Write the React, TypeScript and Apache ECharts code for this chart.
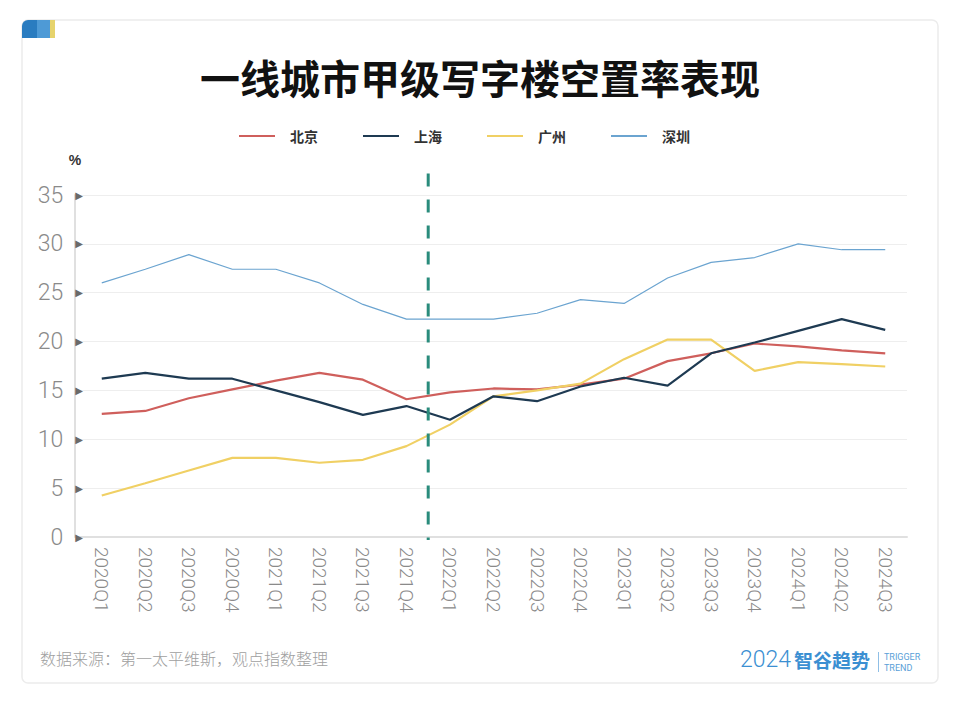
import React, { useEffect, useRef } from "react";
import * as echarts from "echarts";

const categories = [
  "2020Q1", "2020Q2", "2020Q3", "2020Q4",
  "2021Q1", "2021Q2", "2021Q3", "2021Q4",
  "2022Q1", "2022Q2", "2022Q3", "2022Q4",
  "2023Q1", "2023Q2", "2023Q3", "2023Q4",
  "2024Q1", "2024Q2", "2024Q3",
];
const beijing = [12.6, 12.9, 14.2, 15.1, 16.0, 16.8, 16.1, 14.1, 14.8, 15.2, 15.1, 15.6, 16.2, 18.0, 18.8, 19.8, 19.5, 19.1, 18.8];
const shanghai = [16.2, 16.8, 16.2, 16.2, 15.0, 13.8, 12.5, 13.4, 12.0, 14.4, 13.9, 15.4, 16.3, 15.5, 18.8, 19.9, 21.1, 22.3, 21.2];
const guangzhou = [4.25, 5.5, 6.8, 8.1, 8.1, 7.6, 7.9, 9.3, 11.5, 14.4, 15.0, 15.7, 18.2, 20.2, 20.2, 17.0, 17.9, 17.7, 17.45];
const shenzhen = [26.0, 27.4, 28.9, 27.4, 27.4, 26.0, 23.8, 22.3, 22.3, 22.3, 22.9, 24.3, 23.9, 26.5, 28.1, 28.6, 30.0, 29.4, 29.4];
// divider between 2021Q4 and 2022Q1 (category index 7.5), spanning slightly beyond the axis range
const dividerLine = [[7.5, 37.2], [7.5, -0.3]];

const seriesNames = ["北京", "上海", "广州", "深圳"];
const colors = ["#cf5f5c", "#1e3a52", "#f0d064", "#6ba4d0"];

export default function App() {
  const ref = useRef<HTMLDivElement>(null);
  useEffect(() => {
    const chart = echarts.init(ref.current!, null, { renderer: "svg" });
    const labelColor = "#8a8a8a";
    chart.setOption({
      animation: false,
      backgroundColor: "#ffffff",
      title: {
        text: "一线城市甲级写字楼空置率表现",
        left: "center",
        top: 52,
        textStyle: {
          fontSize: 40,
          fontWeight: "bold",
          color: "#111",
          fontFamily: "Noto Sans CJK SC",
        },
      },
      legend: {
        data: seriesNames,
        left: 234,
        top: 124,
        icon: "rect",
        itemWidth: 36,
        itemHeight: 2,
        itemGap: 45,
        textStyle: {
          fontSize: 14,
          fontWeight: "bold",
          color: "#333",
          fontFamily: "Noto Sans CJK SC",
          padding: [0, 0, 0, 10],
        },
      },
      grid: { left: 80, right: 53, top: 195, bottom: 175 },
      xAxis: [
        {
          type: "category",
          data: categories,
          boundaryGap: true,
          offset: 4,
          axisLine: { lineStyle: { color: "#e0e0e0", width: 2 } },
          axisTick: { show: false },
          axisLabel: {
            rotate: -90,
            margin: 6,
            fontSize: 19,
            color: labelColor,
            fontFamily: "Roboto",
            fontWeight: 300,
            interval: 0,
          },
        },
        {
          type: "value",
          show: false,
          min: -0.5,
          max: 18.5,
        },
      ],
      yAxis: {
        type: "value",
        min: 0,
        max: 35,
        interval: 5,
        offset: 5,
        name: "%",
        nameLocation: "end",
        nameGap: 28,
        nameTextStyle: { fontSize: 14, color: "#333", fontWeight: "bold", align: "center" },
        axisLine: { show: true, onZero: false, lineStyle: { color: "#e0e0e0", width: 2 } },
        axisTick: { show: false },
        splitLine: { lineStyle: { color: "#eeeeee", width: 1 } },
        axisLabel: {
          margin: -8,
          formatter: (v: number) => `{n|${v}}{t|▶}`,
          rich: {
            n: {
              fontSize: 23,
              color: labelColor,
              fontFamily: "Roboto",
              fontWeight: 300,
              padding: [0, 12, 0, 0],
            },
            t: { fontSize: 10, color: "#6a6a6a", fontFamily: "DejaVu Sans" },
          },
        },
      },
      series: [
        {
          name: "深圳",
          type: "line",
          data: shenzhen,
          showSymbol: false,
          symbol: "none",
          lineStyle: { width: 1.2, color: colors[3] },
          itemStyle: { color: colors[3] },
        },
        {
          name: "北京",
          type: "line",
          data: beijing,
          showSymbol: false,
          symbol: "none",
          lineStyle: { width: 2.2, color: colors[0] },
          itemStyle: { color: colors[0] },
        },
        {
          name: "广州",
          type: "line",
          data: guangzhou,
          showSymbol: false,
          symbol: "none",
          lineStyle: { width: 2.2, color: colors[2] },
          itemStyle: { color: colors[2] },
        },
        {
          name: "上海",
          type: "line",
          data: shanghai,
          showSymbol: false,
          symbol: "none",
          lineStyle: { width: 2.2, color: colors[1] },
          itemStyle: { color: colors[1] },
        },
        {
          name: "divider",
          type: "line",
          xAxisIndex: 1,
          data: dividerLine,
          showSymbol: false,
          symbol: "none",
          clip: false,
          silent: true,
          lineStyle: { width: 3, color: "#2a8c7c", type: [13, 13] },
        },
      ],
      graphic: [
        {
          type: "rect",
          z: -10,
          shape: { x: 22, y: 20, width: 916, height: 663, r: 6 },
          style: { fill: "#fff", stroke: "#ececec", lineWidth: 1.5 },
        },
        {
          type: "rect",
          z: 10,
          shape: { x: 22, y: 20, width: 15, height: 18, r: [6, 0, 0, 0] },
          style: { fill: "#2a7cc0" },
        },
        {
          type: "rect",
          z: 10,
          shape: { x: 37, y: 20, width: 13, height: 18 },
          style: { fill: "#4e9ad6" },
        },
        {
          type: "rect",
          z: 10,
          shape: { x: 50, y: 20, width: 5, height: 18 },
          style: { fill: "#e6d36c" },
        },
        {
          type: "text",
          left: 40,
          top: 650,
          style: {
            text: "数据来源：第一太平维斯，观点指数整理",
            fontSize: 16,
            fill: "#a0a0a0",
            fontFamily: "Noto Sans CJK SC",
            fontWeight: 300,
          },
        },
        {
          type: "text",
          left: 740,
          top: 648,
          style: {
            text: "2024",
            fontSize: 23,
            fill: "#3b8fd2",
            fontFamily: "Roboto",
            fontWeight: 300,
          },
        },
        {
          type: "text",
          left: 794,
          top: 650,
          style: {
            text: "智谷趋势",
            fontSize: 19,
            fontWeight: "bold",
            fill: "#3b8fd2",
            fontFamily: "Noto Sans CJK SC",
          },
        },
        {
          type: "rect",
          shape: { x: 878, y: 652, width: 1, height: 20 },
          style: { fill: "#8fbfe6" },
        },
        {
          type: "text",
          left: 884,
          top: 651,
          style: {
            text: "TRIGGER\nTREND",
            fontSize: 9,
            lineHeight: 11,
            fill: "#5a9fd8",
            fontFamily: "Roboto",
          },
        },
      ],
    });
    return () => chart.dispose();
  }, []);
  return (
    <div
      ref={ref}
      style={{ position: "absolute", left: 0, top: 0, width: 960, height: 712 }}
    />
  );
}
